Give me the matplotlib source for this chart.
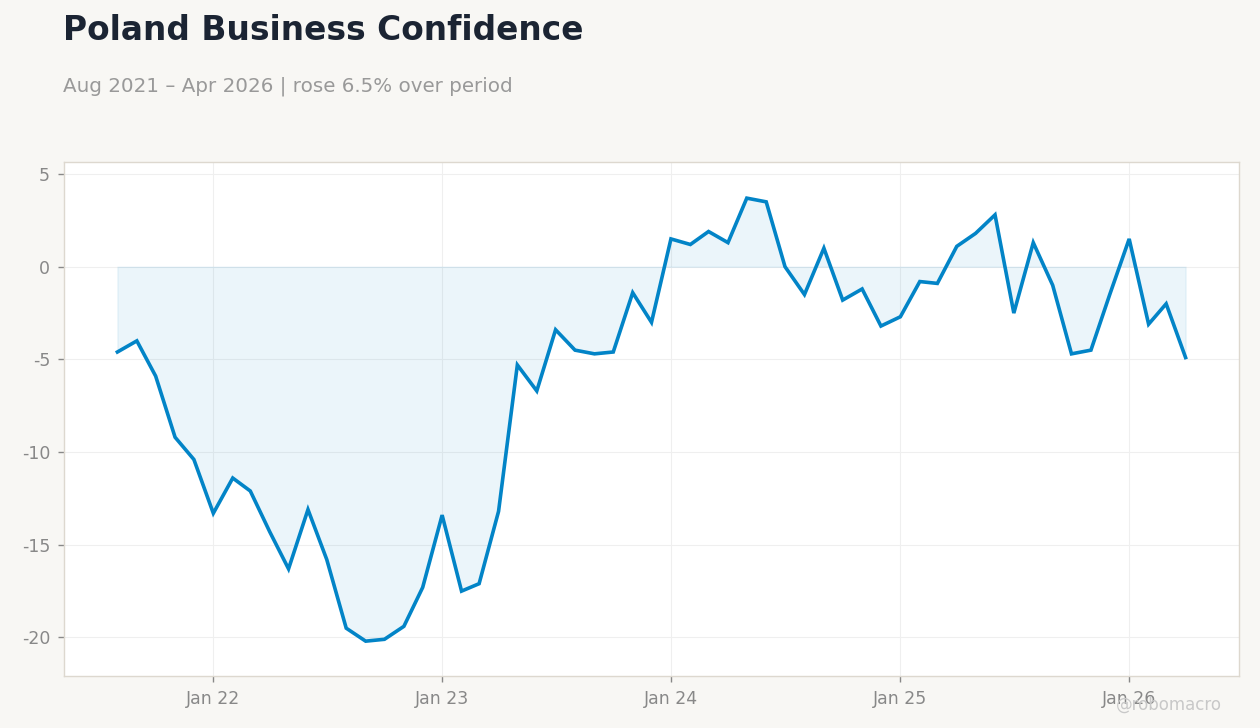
import matplotlib
matplotlib.use("Agg")
import matplotlib.pyplot as plt
import matplotlib.dates as mdates
import pandas as pd

# monthly business confidence, Aug 2021 .. Apr 2026
start_month = "2021-08-01"
values = [
    -4.6, -4.0, -5.9, -9.2, -10.4,
    -13.3, -11.4, -12.1, -14.3, -16.3, -13.1, -15.8, -19.5, -20.2, -20.1, -19.4, -17.3,
    -13.4, -17.5, -17.1, -13.2, -5.3, -6.7, -3.4, -4.5, -4.7, -4.6, -1.4, -3.0,
    1.5, 1.2, 1.9, 1.3, 3.7, 3.5, 0.0, -1.5, 1.0, -1.8, -1.2, -3.2,
    -2.7, -0.8, -0.9, 1.1, 1.8, 2.8, -2.5, 1.3, -1.0, -4.7, -4.5, -1.5,
    1.5, -3.1, -2.0, -4.9,
]
y_ticks = [5, 0, -5, -10, -15, -20]
title = "Poland Business Confidence"
subtitle = "Aug 2021 \u2013 Apr 2026 | rose 6.5% over period"

dates = pd.date_range(start_month, periods=len(values), freq="MS")

BG = "#f8f7f4"
LINE = "#0284c7"

fig = plt.figure(figsize=(12.6, 7.28), dpi=100, facecolor=BG)
ax = fig.add_axes([64 / 1260, 52 / 728, 1175 / 1260, 514 / 728])
ax.set_facecolor("white")

ax.fill_between(dates, values, 0, color=LINE, alpha=0.08, linewidth=1, edgecolor=(0.01, 0.52, 0.78, 0.1))
ax.plot(dates, values, color=LINE, linewidth=2.6, solid_joinstyle="miter")

ax.set_ylim(-22.08, 5.65)
ax.set_yticks(y_ticks)
ax.set_yticklabels([str(v) for v in y_ticks])
ax.xaxis.set_major_locator(mdates.YearLocator(month=1, day=1))
ax.xaxis.set_major_formatter(mdates.DateFormatter("Jan %y"))

ax.grid(True, color="#efefef", linewidth=0.8)
ax.set_axisbelow(True)
for s in ax.spines.values():
    s.set_color("#ddd8cf")
    s.set_linewidth(1)
ax.tick_params(colors="#888888", labelsize=12.5, length=4, width=1, pad=6)

fig.text(63 / 1260, 1 - 30.5 / 728, title, fontsize=23.7, fontweight="bold",
         color="#1b2433", va="center", ha="left")
fig.text(63 / 1260, 1 - 86 / 728, subtitle, fontsize=14.3, color="#999999",
         va="center", ha="left")
fig.text(1222 / 1260, 1 - 705 / 728, "@robomacro", fontsize=12, color="#c8c8c8",
         va="center", ha="right")

fig.savefig("out.png", dpi=100, facecolor=BG)
